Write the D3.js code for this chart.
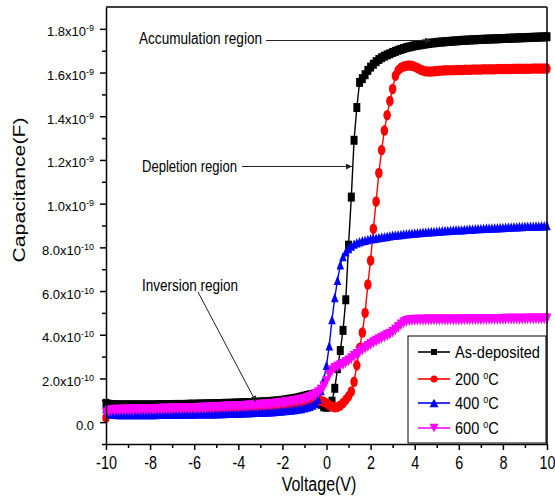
<!DOCTYPE html>
<html>
<head>
<meta charset="utf-8">
<script src="https://cdn.jsdelivr.net/npm/d3@7"></script>
<style>
  body { margin: 0; background: #fff; }
  text { font-family: "Liberation Sans", Arial, sans-serif; fill: #000; }
</style>
</head>
<body>
<div id="chart-area"></div>
<script>
// bias sweep (V), step 0.125 V
const voltage = [
  -10,-9.875,-9.75,-9.625,-9.5,-9.375,-9.25,-9.125,
  -9,-8.875,-8.75,-8.625,-8.5,-8.375,-8.25,-8.125,
  -8,-7.875,-7.75,-7.625,-7.5,-7.375,-7.25,-7.125,
  -7,-6.875,-6.75,-6.625,-6.5,-6.375,-6.25,-6.125,
  -6,-5.875,-5.75,-5.625,-5.5,-5.375,-5.25,-5.125,
  -5,-4.875,-4.75,-4.625,-4.5,-4.375,-4.25,-4.125,
  -4,-3.875,-3.75,-3.625,-3.5,-3.375,-3.25,-3.125,
  -3,-2.875,-2.75,-2.625,-2.5,-2.375,-2.25,-2.125,
  -2,-1.875,-1.75,-1.625,-1.5,-1.375,-1.25,-1.125,
  -1,-0.875,-0.75,-0.625,-0.5,-0.375,-0.25,-0.125,
  0,0.125,0.25,0.375,0.5,0.625,0.75,0.875,
  1,1.125,1.25,1.375,1.5,1.625,1.75,1.875,
  2,2.125,2.25,2.375,2.5,2.625,2.75,2.875,
  3,3.125,3.25,3.375,3.5,3.625,3.75,3.875,
  4,4.125,4.25,4.375,4.5,4.625,4.75,4.875,
  5,5.125,5.25,5.375,5.5,5.625,5.75,5.875,
  6,6.125,6.25,6.375,6.5,6.625,6.75,6.875,
  7,7.125,7.25,7.375,7.5,7.625,7.75,7.875,
  8,8.125,8.25,8.375,8.5,8.625,8.75,8.875,
  9,9.125,9.25,9.375,9.5,9.625,9.75,9.875,
  10
]

// capacitance in units of 1e-10 F
const capAsDeposited = [
  0.86,0.82,0.80,0.80,0.79,0.79,0.79,0.79,
  0.79,0.79,0.79,0.79,0.79,0.79,0.79,0.79,
  0.79,0.79,0.79,0.80,0.80,0.80,0.80,0.80,
  0.80,0.81,0.81,0.81,0.81,0.81,0.82,0.82,
  0.82,0.82,0.83,0.83,0.83,0.84,0.84,0.84,
  0.85,0.85,0.85,0.86,0.86,0.86,0.87,0.87,
  0.88,0.88,0.89,0.89,0.90,0.90,0.91,0.91,
  0.92,0.93,0.93,0.94,0.95,0.96,0.97,0.98,
  1.00,1.02,1.04,1.06,1.08,1.10,1.13,1.16,
  1.19,1.22,1.25,1.27,1.22,1.02,0.82,0.70,
  0.68,0.78,0.96,1.55,2.45,3.28,4.20,5.60,
  8.10,10.30,12.90,14.40,15.55,15.72,15.90,16.10,
  16.25,16.38,16.50,16.60,16.68,16.75,16.81,16.86,
  16.92,16.97,17.02,17.06,17.10,17.14,17.17,17.20,
  17.23,17.25,17.27,17.29,17.31,17.33,17.35,17.36,
  17.38,17.39,17.40,17.41,17.42,17.43,17.44,17.45,
  17.46,17.47,17.48,17.48,17.49,17.50,17.50,17.51,
  17.52,17.52,17.53,17.53,17.54,17.54,17.55,17.55,
  17.56,17.56,17.57,17.57,17.58,17.58,17.59,17.59,
  17.60,17.60,17.61,17.61,17.62,17.62,17.63,17.63,
  17.64
]
const cap200C = [
  0.20,0.40,0.44,0.45,0.45,0.45,0.46,0.46,
  0.46,0.46,0.46,0.47,0.47,0.47,0.47,0.47,
  0.48,0.48,0.48,0.48,0.49,0.49,0.49,0.49,
  0.50,0.50,0.50,0.51,0.51,0.51,0.52,0.52,
  0.52,0.53,0.53,0.53,0.54,0.54,0.55,0.55,
  0.55,0.56,0.56,0.57,0.57,0.58,0.58,0.59,
  0.59,0.60,0.60,0.61,0.61,0.62,0.63,0.63,
  0.64,0.65,0.66,0.67,0.68,0.69,0.70,0.71,
  0.72,0.73,0.74,0.75,0.77,0.78,0.80,0.82,
  0.85,0.88,0.92,0.96,1.00,1.00,0.98,0.93,
  0.86,0.78,0.72,0.68,0.69,0.76,0.88,1.02,
  1.18,1.40,1.85,2.60,3.40,4.10,5.00,6.30,
  7.40,8.85,10.10,11.40,12.45,13.35,14.05,14.70,
  15.25,15.85,16.10,16.22,16.28,16.31,16.32,16.31,
  16.27,16.21,16.14,16.09,16.06,16.05,16.05,16.06,
  16.07,16.08,16.09,16.10,16.10,16.11,16.11,16.12,
  16.12,16.12,16.13,16.13,16.13,16.14,16.14,16.14,
  16.14,16.15,16.15,16.15,16.15,16.15,16.16,16.16,
  16.16,16.16,16.16,16.16,16.17,16.17,16.17,16.17,
  16.17,16.17,16.17,16.18,16.18,16.18,16.18,16.18,
  16.18
]
const cap400C = [
  0.62,0.42,0.37,0.36,0.35,0.35,0.35,0.35,
  0.35,0.35,0.35,0.35,0.35,0.35,0.35,0.35,
  0.35,0.35,0.35,0.36,0.36,0.36,0.36,0.36,
  0.36,0.36,0.36,0.37,0.37,0.37,0.37,0.37,
  0.37,0.38,0.38,0.38,0.38,0.39,0.39,0.39,
  0.39,0.40,0.40,0.40,0.41,0.41,0.41,0.42,
  0.42,0.42,0.43,0.43,0.44,0.44,0.45,0.45,
  0.46,0.46,0.47,0.48,0.48,0.49,0.50,0.51,
  0.52,0.53,0.54,0.56,0.57,0.59,0.61,0.63,
  0.66,0.69,0.73,0.78,0.85,1.05,1.45,1.95,
  2.60,3.50,4.70,5.70,6.50,7.20,7.58,7.80,
  7.95,8.06,8.15,8.21,8.26,8.30,8.33,8.36,
  8.39,8.41,8.43,8.45,8.47,8.49,8.51,8.53,
  8.55,8.56,8.58,8.59,8.61,8.62,8.63,8.65,
  8.66,8.67,8.68,8.69,8.70,8.71,8.72,8.73,
  8.74,8.75,8.76,8.77,8.77,8.78,8.79,8.80,
  8.81,8.81,8.82,8.83,8.84,8.84,8.85,8.86,
  8.86,8.87,8.88,8.88,8.89,8.90,8.90,8.91,
  8.91,8.92,8.93,8.93,8.94,8.94,8.95,8.95,
  8.96,8.96,8.97,8.97,8.98,8.98,8.99,8.99,
  9.00
]
const cap600C = [
  0.42,0.50,0.53,0.54,0.55,0.55,0.55,0.56,
  0.56,0.56,0.56,0.57,0.57,0.57,0.57,0.58,
  0.58,0.58,0.58,0.59,0.59,0.59,0.60,0.60,
  0.60,0.61,0.61,0.61,0.62,0.62,0.62,0.63,
  0.63,0.63,0.64,0.64,0.65,0.65,0.66,0.66,
  0.67,0.67,0.68,0.68,0.69,0.69,0.70,0.70,
  0.71,0.72,0.72,0.73,0.74,0.75,0.75,0.76,
  0.77,0.78,0.79,0.80,0.81,0.82,0.84,0.85,
  0.86,0.88,0.90,0.92,0.94,0.96,0.99,1.01,
  1.04,1.08,1.13,1.19,1.26,1.35,1.46,1.62,
  1.85,2.15,2.35,2.45,2.52,2.58,2.64,2.72,
  2.80,2.90,3.00,3.10,3.20,3.30,3.38,3.46,
  3.55,3.63,3.70,3.77,3.84,3.90,3.96,4.02,
  4.12,4.22,4.33,4.45,4.55,4.61,4.64,4.65,
  4.66,4.66,4.66,4.66,4.67,4.67,4.67,4.67,
  4.67,4.67,4.67,4.68,4.68,4.68,4.68,4.68,
  4.68,4.68,4.69,4.69,4.69,4.69,4.69,4.69,
  4.69,4.70,4.70,4.70,4.70,4.70,4.70,4.70,
  4.70,4.71,4.71,4.71,4.71,4.71,4.71,4.71,
  4.71,4.72,4.72,4.72,4.72,4.72,4.72,4.72,
  4.72
]

const seriesNames = ["As-deposited", "200", "400", "600"]
const xTicks = [-10, -8, -6, -4, -2, 0, 2, 4, 6, 8, 10]
const xMinorTicks = [-9, -7, -5, -3, -1, 1, 3, 5, 7, 9]
const yTicks = [0, 2, 4, 6, 8, 10, 12, 14, 16, 18]        // x 1e-10 F
const yMinorTicks = [-1, 1, 3, 5, 7, 9, 11, 13, 15, 17]

// margens
const MARGIN = { LEFT: 106, RIGHT: 8, TOP: 7, BOTTOM: 55 }
const W = 555, H = 499
const WIDTH = W - MARGIN.LEFT - MARGIN.RIGHT
const HEIGHT = H - MARGIN.TOP - MARGIN.BOTTOM

const svg = d3.select("#chart-area").append("svg")
  .attr("width", W)
  .attr("height", H)

svg.append("rect").attr("width", W).attr("height", H).attr("fill", "#fff")

const g = svg.append("g")
  .attr("transform", `translate(${MARGIN.LEFT}, ${MARGIN.TOP})`)

const x = d3.scaleLinear().domain([-10, 10]).range([0, WIDTH])
const y = d3.scaleLinear().domain([-1, 19]).range([HEIGHT, 0])

// marker shapes (centered on the point)
function markerPath(shape, w, h) {
  const a = w / 2, b = h / 2
  if (shape === "square") return `M${-a},${-b}H${a}V${b}H${-a}Z`
  if (shape === "circle") return `M${-a},0A${a},${b} 0 1,0 ${a},0A${a},${b} 0 1,0 ${-a},0Z`
  if (shape === "up") return `M0,${-b}L${a},${b}L${-a},${b}Z`
  return `M${-a},${-b}L${a},${-b}L0,${b}Z`
}

const series = [
  { name: seriesNames[0], values: capAsDeposited, color: "#000000", shape: "square", w: 7, h: 9 },
  { name: seriesNames[1], values: cap200C, color: "#ff0000", shape: "circle", w: 7.5, h: 10.5 },
  { name: seriesNames[2], values: cap400C, color: "#0000ff", shape: "up", w: 7.5, h: 9.5 },
  { name: seriesNames[3], values: cap600C, color: "#ff00ff", shape: "down", w: 8.5, h: 11 }
]

const line = d3.line()
  .x(d => x(d[0]))
  .y(d => y(d[1]))

series.forEach(s => {
  const pts = voltage.map((v, i) => [v, s.values[i]])
  g.append("path")
    .attr("fill", "none")
    .attr("stroke", s.color)
    .attr("stroke-width", 1.4)
    .attr("d", line(pts))
  g.append("g").selectAll("path")
    .data(pts)
    .enter().append("path")
    .attr("d", markerPath(s.shape, s.w, s.h))
    .attr("fill", s.color)
    .attr("transform", d => `translate(${x(d[0])},${y(d[1])})`)
})

// eixos
const xAxis = g.append("g").attr("transform", `translate(0, ${HEIGHT})`)
  .call(d3.axisBottom(x).tickValues(xTicks).tickSize(6).tickSizeOuter(0).tickFormat(d => String(d)))
g.append("g").attr("transform", `translate(0, ${HEIGHT})`)
  .call(d3.axisBottom(x).tickValues(xMinorTicks).tickSize(4).tickSizeOuter(0).tickFormat(""))
  .select(".domain").remove()

const yAxis = g.append("g")
  .call(d3.axisLeft(y).tickValues(yTicks).tickSize(6).tickSizeOuter(0))
g.append("g")
  .call(d3.axisLeft(y).tickValues(yMinorTicks).tickSize(4).tickSizeOuter(0).tickFormat(""))
  .select(".domain").remove()

g.selectAll(".domain, .tick line").attr("stroke", "#000").attr("stroke-width", 1.5)

xAxis.selectAll(".tick text")
  .attr("y", 25).attr("dy", null)
  .attr("font-size", "18px")
  .attr("transform", "scale(0.8,1)")

yAxis.selectAll(".tick text").each(function (d) {
  const t = d3.select(this).text(null)
    .attr("x", -12).attr("y", 7).attr("dy", null)
    .attr("font-size", "13px").attr("text-anchor", "end")
  if (d === 0) { t.text("0.0"); return }
  const big = d >= 10
  t.append("tspan").text((big ? d / 10 : d).toFixed(1) + "x10")
  t.append("tspan").attr("dy", -5).attr("font-size", "9px").text(big ? "-9" : "-10")
})

// moldura
g.append("line").attr("x1", 0).attr("x2", WIDTH).attr("y1", 0).attr("y2", 0)
  .attr("stroke", "#000").attr("stroke-width", 1.5)
g.append("line").attr("x1", WIDTH).attr("x2", WIDTH).attr("y1", 0).attr("y2", HEIGHT)
  .attr("stroke", "#000").attr("stroke-width", 1.5)

// titulos dos eixos
svg.append("text")
  .attr("transform", "translate(319, 491) scale(0.8,1)")
  .attr("text-anchor", "middle")
  .attr("font-size", "20px")
  .text("Voltage(V)")

svg.append("text")
  .attr("transform", "translate(25, 190) rotate(-90)")
  .attr("text-anchor", "middle")
  .attr("font-size", "17px")
  .attr("textLength", 145)
  .attr("lengthAdjust", "spacingAndGlyphs")
  .text("Capacitance(F)")

// anotacoes
const defs = svg.append("defs")
defs.append("marker")
  .attr("id", "arrow")
  .attr("viewBox", "0 0 10 10")
  .attr("refX", 10).attr("refY", 5)
  .attr("markerWidth", 8).attr("markerHeight", 6)
  .attr("markerUnits", "userSpaceOnUse")
  .attr("orient", "auto")
  .append("path").attr("d", "M0,0L10,5L0,10Z").attr("fill", "#222")

const notes = [
  { label: "Accumulation region", tx: 139, ty: 44, len: 123, from: [266, 40.5], to: [431, 40.5] },
  { label: "Depletion region", tx: 142, ty: 172, len: 95, from: [242, 166.5], to: [352, 166.5] },
  { label: "Inversion region", tx: 142, ty: 291, len: 96, from: [198, 292], to: [256, 402] }
]
notes.forEach(n => {
  svg.append("text")
    .attr("x", n.tx).attr("y", n.ty)
    .attr("font-size", "16px")
    .attr("textLength", n.len)
    .attr("lengthAdjust", "spacingAndGlyphs")
    .text(n.label)
  svg.append("line")
    .attr("x1", n.from[0]).attr("y1", n.from[1])
    .attr("x2", n.to[0]).attr("y2", n.to[1])
    .attr("stroke", "#222").attr("stroke-width", 1)
    .attr("marker-end", "url(#arrow)")
})

// legenda
const legend = svg.append("g")
legend.append("rect")
  .attr("x", 408).attr("y", 336).attr("width", 138).attr("height", 107)
  .attr("fill", "#fff").attr("stroke", "#000").attr("stroke-width", 1)

const legendY = [352, 379, 403, 428]
const legendMarker = [[6, 6], [7, 7], [9, 8.5], [9, 8.5]]
series.forEach((s, i) => {
  const ly = legendY[i]
  legend.append("line")
    .attr("x1", 418).attr("x2", 450).attr("y1", ly).attr("y2", ly)
    .attr("stroke", s.color).attr("stroke-width", 1.6)
  legend.append("path")
    .attr("d", markerPath(s.shape, legendMarker[i][0], legendMarker[i][1]))
    .attr("fill", s.color)
    .attr("transform", `translate(434,${ly})`)
  const t = legend.append("text")
    .attr("transform", `translate(455,${ly + 5.5}) scale(0.91,1)`)
    .attr("font-size", "16px")
  if (i === 0) {
    t.text(s.name)
  } else {
    t.append("tspan").text(s.name + " ")
    t.append("tspan").attr("dy", -6).attr("font-size", "10px").text("o")
    t.append("tspan").attr("dy", 6).text("C")
  }
})
</script>
</body>
</html>
